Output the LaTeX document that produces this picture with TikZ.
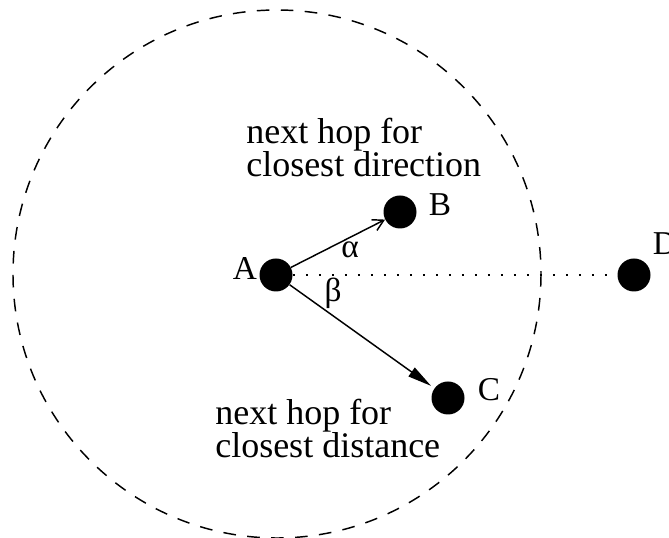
\documentclass[tikz,border=0pt]{standalone}
\usepackage{fontspec}
\setmainfont{Liberation Serif}
\usetikzlibrary{arrows.meta}
\begin{document}
\begin{tikzpicture}[x=0.75pt,y=-0.75pt,
  dot/.style={circle,fill=black,inner sep=0pt,minimum size=24.75pt},
  lbl/.style={font=\fontsize{25}{22}\selectfont,inner sep=0pt},
  note/.style={font=\fontsize{27}{21}\selectfont,align=left,anchor=base west,inner sep=0pt},
  conn/.style={line width=1.1pt},
  rangecircle/.style={dash pattern=on 9.5pt off 8.5pt,line width=1.1pt},
  hopline/.style={dash pattern=on 2pt off 7.75pt,line width=1.3pt},
]
\useasboundingbox (0,0) rectangle (669,538);
% transmission range of A
\draw[rangecircle] (277,274) circle[radius=264];
% nodes
\node[dot] (A) at (276,275) {};
\node[dot] (B) at (400,212) {};
\node[dot] (C) at (448,398) {};
\node[dot] (D) at (634,275) {};
% links
\draw[conn,-{Straight Barb[length=8pt,width=9pt]}] (A) -- (B);
\draw[conn,-{Triangle[length=18pt,width=8pt]},shorten >=3pt] (A) -- (C);
\draw[hopline] (A) -- (D);
% labels
\node[lbl] (lA) at (245,269) {A};
\node[lbl] (lB) at (440,205) {B};
\node[lbl] (lC) at (489,390) {C};
\node[lbl] (lD) at (665,244) {D};
\node[lbl] (alpha) at (350,250) {α};
\node[lbl] (beta) at (333,293) {β};
\node[note] (dir) at (246,177) {next hop for\\closest direction};
\node[note] (dist) at (215,458) {next hop for\\closest distance};
\end{tikzpicture}
\end{document}
